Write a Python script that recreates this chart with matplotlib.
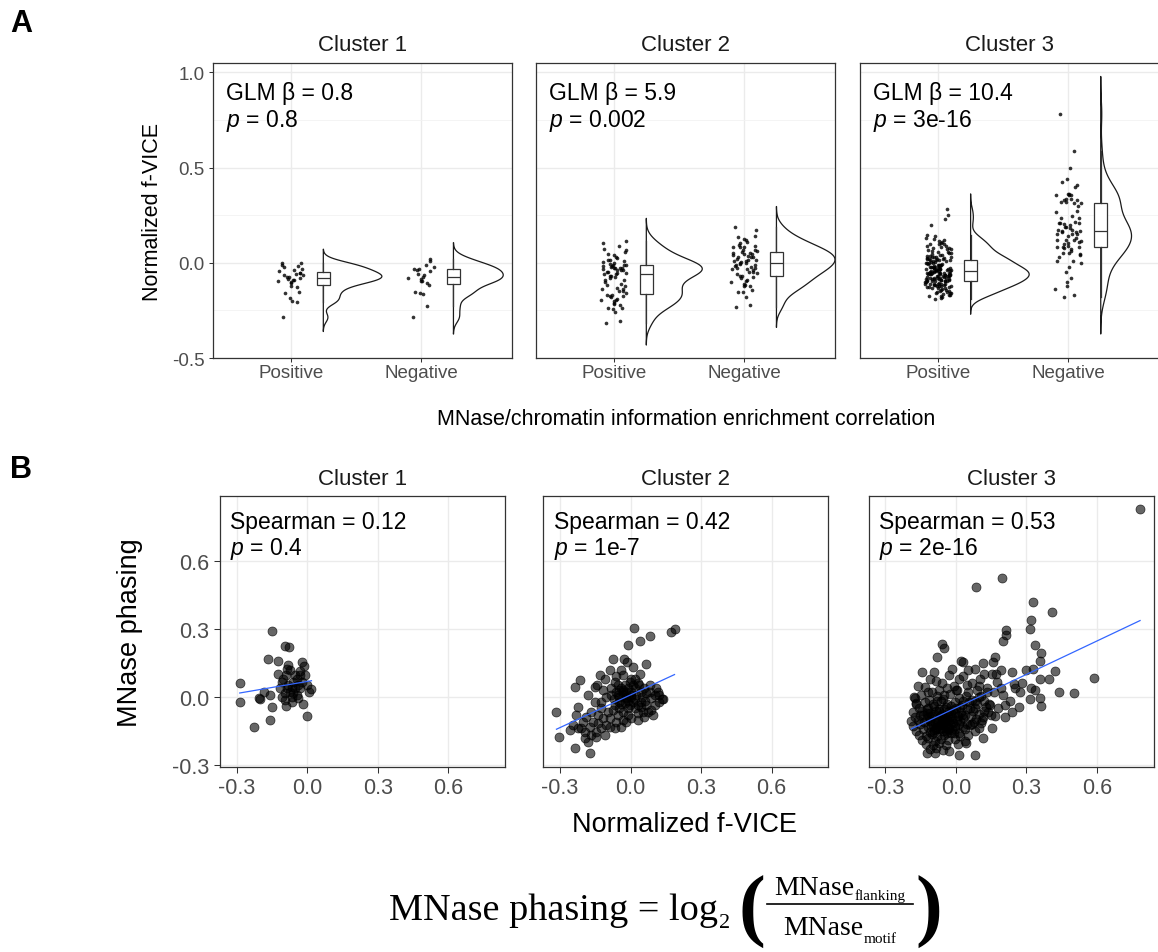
import numpy as np
import matplotlib
matplotlib.use("Agg")
import matplotlib.pyplot as plt

plt.rcParams["font.family"] = ["Liberation Sans", "DejaVu Sans"]
plt.rcParams["mathtext.fontset"] = "custom"
plt.rcParams["mathtext.rm"] = "Liberation Sans"
plt.rcParams["mathtext.it"] = "Liberation Sans:italic"
plt.rcParams["axes.unicode_minus"] = False

# ---- data -------------------------------------------------------------
clusters = ["Cluster 1", "Cluster 2", "Cluster 3"]
groups = ["Positive", "Negative"]
glm_beta = ["0.8", "5.9", "10.4"]
glm_p = ["0.8", "0.002", "3e-16"]
spearman_rho = ["0.12", "0.42", "0.53"]
spearman_p = ["0.4", "1e-7", "2e-16"]

# (normalized f-VICE, MNase phasing) per motif
c1_positive = [
    (-0.287, -0.023), (-0.207, -0.007), (-0.200, -0.010), (-0.183, 0.022), (-0.158, -0.100),
    (-0.151, -0.044), (-0.125, 0.158), (-0.123, 0.102), (-0.108, 0.066), (-0.101, 0.081),
    (-0.094, -0.015), (-0.090, -0.038), (-0.090, 0.095), (-0.087, 0.037), (-0.080, 0.139),
    (-0.076, 0.221), (-0.073, 0.117), (-0.066, -0.022), (-0.066, 0.044), (-0.059, 0.066),
    (-0.052, 0.037), (-0.052, 0.095), (-0.045, 0.081), (-0.038, 0.051), (-0.031, 0.113),
    (-0.024, 0.154), (-0.017, -0.032), (-0.013, 0.136), (-0.003, -0.082), (-0.003, 0.051),
]
c1_negative = [
    (-0.287, 0.061), (-0.228, -0.133), (-0.165, 0.165), (-0.158, 0.007), (-0.151, 0.290),
    (-0.115, 0.037), (-0.108, 0.000), (-0.094, 0.224), (-0.094, 0.015), (-0.087, 0.124),
    (-0.080, 0.051), (-0.073, 0.022), (-0.066, 0.000), (-0.059, 0.015), (-0.045, 0.007),
    (-0.038, -0.007), (-0.031, 0.037), (-0.031, 0.095), (-0.024, 0.066), (-0.010, 0.095),
    (0.007, 0.022), (0.018, 0.034),
]
c2_positive = [
    (-0.315, -0.066), (-0.306, -0.176), (-0.259, -0.146), (-0.245, -0.124), (-0.238, -0.227),
    (-0.238, 0.044), (-0.223, -0.139), (-0.216, 0.073), (-0.209, -0.139), (-0.202, -0.110),
    (-0.195, -0.183), (-0.195, -0.154), (-0.188, -0.088), (-0.181, -0.198), (-0.174, -0.249),
    (-0.174, -0.132), (-0.167, -0.168), (-0.167, -0.066), (-0.160, -0.110), (-0.146, -0.176),
    (-0.146, -0.154), (-0.139, -0.081), (-0.139, -0.117), (-0.132, 0.095), (-0.124, -0.139),
    (-0.117, -0.095), (-0.110, -0.168), (-0.103, -0.124), (-0.089, -0.095), (-0.089, -0.132),
    (-0.082, 0.037), (-0.075, 0.165), (-0.068, -0.139), (-0.068, 0.066), (-0.061, -0.110),
    (-0.060, 0.090), (-0.054, 0.051), (-0.054, -0.081), (-0.050, 0.000), (-0.047, -0.051),
    (-0.040, -0.132), (-0.040, 0.117), (-0.040, -0.030), (-0.033, -0.102), (-0.030, 0.030),
    (-0.028, 0.168), (-0.025, 0.051), (-0.018, -0.110), (-0.017, 0.154), (-0.011, 0.227),
    (-0.011, -0.081), (-0.010, -0.020), (-0.004, 0.066), (0.000, 0.010), (0.003, -0.095),
    (0.010, 0.051), (0.014, 0.303), (0.017, -0.051), (0.024, 0.007), (0.031, -0.102),
    (0.042, 0.102), (0.045, -0.044), (0.059, 0.037), (0.066, 0.146), (0.074, -0.066),
    (0.088, -0.007), (0.102, 0.007), (0.116, 0.022), (-0.030, 0.020), (-0.020, 0.000),
]
c2_negative = [
    (-0.231, -0.081), (-0.223, -0.044), (-0.181, 0.007), (-0.153, 0.044), (-0.153, -0.022),
    (-0.141, 0.051), (-0.124, -0.051), (-0.124, -0.022), (-0.117, 0.029), (-0.110, 0.081),
    (-0.103, 0.000), (-0.096, -0.066), (-0.089, 0.117), (-0.082, 0.007), (-0.075, -0.059),
    (-0.070, -0.010), (-0.068, -0.037), (-0.061, 0.022), (-0.054, 0.007), (-0.050, 0.030),
    (-0.047, -0.022), (-0.040, 0.037), (-0.033, 0.095), (-0.033, -0.066), (-0.030, 0.010),
    (-0.025, -0.029), (-0.020, 0.020), (-0.018, -0.007), (-0.011, 0.037), (-0.011, -0.051),
    (-0.004, -0.037), (0.000, 0.000), (0.000, 0.080), (0.003, 0.022), (0.010, 0.132),
    (0.010, -0.022), (0.017, 0.081), (0.017, 0.037), (0.020, -0.010), (0.030, 0.060),
    (0.031, -0.073), (0.031, -0.037), (0.038, 0.051), (0.042, 0.246), (0.045, 0.022),
    (0.045, -0.022), (0.050, 0.000), (0.052, -0.066), (0.059, -0.088), (0.060, -0.020),
    (0.066, 0.015), (0.066, -0.037), (0.081, 0.266), (0.081, 0.051), (0.081, 0.022),
    (0.088, -0.059), (0.095, -0.081), (0.102, -0.037), (0.109, 0.037), (0.120, 0.010),
    (0.123, -0.022), (0.134, -0.010), (0.140, -0.010), (0.170, 0.288), (0.187, 0.300),
]
c3_positive = [
    (-0.059, 0.234), (-0.052, 0.215), (-0.080, 0.176), (0.021, 0.157), (0.032, 0.154),
    (-0.144, 0.110), (-0.094, 0.110), (-0.130, 0.044), (-0.085, 0.069), (-0.017, 0.124),
    (-0.031, 0.095), (-0.060, 0.060), (-0.010, 0.050), (0.030, 0.090), (0.070, 0.060),
    (-0.110, 0.080), (-0.040, 0.040), (0.005, 0.030), (-0.160, 0.050), (0.100, 0.050),
    (0.250, 0.040), (0.280, 0.060), (0.130, 0.020), (-0.120, 0.020), (-0.070, 0.030),
    (0.200, 0.010), (0.230, -0.020),
    (-0.176, -0.004), (-0.148, 0.008), (-0.113, -0.012), (-0.082, 0.004), (-0.053, -0.008),
    (-0.024, 0.012), (0.012, -0.005), (0.041, 0.006), (0.068, -0.014), (0.107, 0.003),
    (-0.168, -0.028), (-0.131, -0.021), (-0.097, -0.033), (-0.064, -0.018), (-0.036, -0.030),
    (-0.004, -0.024), (0.027, -0.035), (0.057, -0.022), (0.088, -0.031), (0.118, -0.019),
    (0.146, -0.036), (-0.158, -0.047), (-0.121, -0.055), (-0.092, -0.041), (-0.071, -0.052),
    (-0.044, -0.046), (-0.013, -0.057), (0.018, -0.043), (0.049, -0.052), (0.079, -0.048),
    (0.127, -0.044), (-0.183, -0.068), (-0.143, -0.061), (-0.109, -0.072), (-0.084, -0.064),
    (-0.058, -0.076), (-0.029, -0.063), (-0.002, -0.071), (0.022, -0.066), (0.038, -0.078),
    (0.071, -0.062), (0.098, -0.074), (0.138, -0.067), (-0.172, -0.088), (-0.151, -0.081),
    (-0.124, -0.094), (-0.101, -0.083), (-0.073, -0.091), (-0.048, -0.085), (-0.021, -0.097),
    (0.008, -0.086), (0.031, -0.092), (0.062, -0.084), (0.087, -0.096), (0.116, -0.089),
    (-0.189, -0.108), (-0.163, -0.101), (-0.134, -0.112), (-0.112, -0.104), (-0.088, -0.115),
    (-0.061, -0.107), (-0.039, -0.101), (-0.012, -0.113), (0.016, -0.106), (0.047, -0.118),
    (0.076, -0.109), (0.105, -0.117), (-0.181, -0.127), (-0.152, -0.121), (-0.119, -0.133),
    (-0.097, -0.124), (-0.079, -0.131), (-0.053, -0.122), (-0.031, -0.136), (-0.003, -0.127),
    (0.028, -0.132), (0.059, -0.124), (0.096, -0.135), (-0.168, -0.148), (-0.139, -0.142),
    (-0.111, -0.153), (-0.092, -0.146), (-0.068, -0.141), (-0.042, -0.152), (-0.017, -0.147),
    (0.012, -0.158), (0.039, -0.143), (0.083, -0.151), (-0.157, -0.166), (-0.128, -0.172),
    (-0.102, -0.163), (-0.081, -0.174), (-0.052, -0.168), (-0.023, -0.161), (0.019, -0.173),
    (0.051, -0.166), (-0.146, -0.188), (-0.118, -0.183), (-0.091, -0.194), (-0.063, -0.186),
    (-0.034, -0.191), (-0.002, -0.184), (0.038, -0.193), (-0.127, -0.207), (-0.098, -0.214),
    (-0.071, -0.203), (-0.043, -0.211), (0.009, -0.206), (-0.112, -0.228), (-0.083, -0.223),
    (-0.054, -0.232), (-0.123, -0.246), (-0.087, -0.249), (-0.030, -0.240),
    (-0.095, -0.075), (-0.075, -0.100), (-0.065, -0.120), (-0.055, -0.095), (-0.045, -0.110),
    (-0.035, -0.080), (-0.025, -0.120), (-0.015, -0.090), (-0.005, -0.140), (0.005, -0.100),
    (-0.085, -0.140), (-0.070, -0.060), (-0.060, -0.135), (-0.050, -0.055), (-0.040, -0.160),
    (-0.030, -0.105), (-0.020, -0.070), (-0.010, -0.160), (0.000, -0.050), (-0.105, -0.130),
    (-0.115, -0.090), (-0.125, -0.070), (-0.095, -0.155), (-0.080, -0.110), (-0.045, -0.125),
    (-0.035, -0.140), (-0.065, -0.085), (-0.055, -0.150), (0.015, -0.120), (0.025, -0.080),
]
c3_negative = [
    (0.783, 0.827), (0.589, 0.085), (0.500, 0.019), (0.438, 0.022), (0.423, 0.113),
    (0.410, 0.373), (0.397, 0.078), (0.363, 0.195), (0.360, -0.040), (0.356, 0.157),
    (0.356, 0.081), (0.356, -0.007), (0.335, 0.227), (0.335, 0.029), (0.328, 0.417),
    (0.328, 0.124), (0.321, 0.037), (0.318, 0.337), (0.314, 0.300), (0.314, -0.010),
    (0.300, 0.120), (0.272, 0.022), (0.268, -0.044), (0.246, 0.059), (0.237, 0.110),
    (0.237, -0.066), (0.215, 0.274), (0.211, 0.293), (0.208, -0.037), (0.208, -0.088),
    (0.201, 0.245), (0.197, 0.523),
    (0.190, 0.120), (0.190, 0.040), (0.180, -0.050), (0.173, 0.066), (0.170, 0.100),
    (0.166, 0.176), (0.166, -0.085), (0.160, 0.020), (0.159, 0.154), (0.152, 0.102),
    (0.152, -0.136), (0.150, -0.080), (0.140, -0.030), (0.130, 0.040), (0.120, 0.100),
    (0.120, -0.060), (0.117, -0.180), (0.114, 0.151), (0.110, -0.100), (0.103, 0.081),
    (0.100, 0.000), (0.090, 0.030), (0.085, 0.486), (0.082, 0.124), (0.082, -0.256),
    (0.080, -0.020), (0.070, -0.120), (0.060, -0.050), (0.050, 0.120), (0.050, 0.020),
    (0.046, 0.051), (0.042, -0.205), (0.030, -0.020), (0.011, -0.256), (0.011, 0.081),
    (0.000, 0.030), (-0.020, -0.040), (-0.050, 0.010), (-0.080, -0.020), (-0.100, 0.020),
    (-0.120, -0.050), (-0.140, -0.080), (-0.170, -0.030), (-0.179, 0.000),
]
cluster_data = [(c1_positive, c1_negative), (c2_positive, c2_negative), (c3_positive, c3_negative)]

# ---- style ------------------------------------------------------------
W, H = 1158, 953
DARK = "#333333"
TICK = "#4D4D4D"
GRID = "#EBEBEB"
BLUE = "#3366FF"
SERIF = "Liberation Serif"

fig = plt.figure(figsize=(W / 100, H / 100), dpi=100)


def px_axes(x0, y0, w, h):
    return fig.add_axes([x0 / W, 1 - (y0 + h) / H, w / W, h / H])


def kde(vals):
    # gaussian density, bw.nrd0, cut = 3 like ggplot's violin
    v = np.asarray(vals, dtype=float)
    n = len(v)
    iqr = np.subtract(*np.percentile(v, [75, 25]))
    bw = 0.9 * min(v.std(ddof=1), iqr / 1.34) * n ** -0.2
    grid = np.linspace(v.min() - 3 * bw, v.max() + 3 * bw, 400)
    dens = np.exp(-0.5 * ((grid[:, None] - v[None, :]) / bw) ** 2).sum(1) / (n * bw * np.sqrt(2 * np.pi))
    return grid, dens


def jitter(n, width=0.1):
    # deterministic hash-style spread of horizontal offsets
    i = np.arange(n)
    h = np.sin(i * 12.9898 + 78.233) * 43758.5453
    return (h - np.floor(h) - 0.5) * 2 * width


def frame(ax):
    for s in ax.spines.values():
        s.set_color(DARK)
        s.set_linewidth(0.9)
    ax.set_axisbelow(True)


# ---- panel A ----------------------------------------------------------
A_X = [212.7, 535.7, 860.0]
A_Y, A_W, A_H = 64.3, 299.3, 294.7
for ci in range(3):
    ax = px_axes(A_X[ci], A_Y, A_W, A_H)
    frame(ax)
    vals = [[p[0] for p in grp] for grp in cluster_data[ci]]
    kdes = [kde(v) for v in vals]
    dmax = max(k[1].max() for k in kdes)
    for gi, v in enumerate(vals):
        xpos = gi + 1
        ax.scatter(xpos + jitter(len(v)), v, s=7, color="black", alpha=0.8, lw=0, zorder=3)
        grid, dens = kdes[gi]
        ax.fill_betweenx(grid, xpos + 0.25, xpos + 0.25 + 0.45 * dens / dmax,
                         facecolor="none", edgecolor="#1a1a1a", lw=0.9, zorder=4)
        ax.boxplot([v], positions=[xpos + 0.25], widths=0.1, showfliers=False,
                   patch_artist=True, manage_ticks=False, zorder=5,
                   boxprops=dict(facecolor="white", edgecolor=DARK, lw=0.9),
                   medianprops=dict(color=DARK, lw=0.9),
                   whiskerprops=dict(color=DARK, lw=0.9), capprops=dict(lw=0))
    ax.set_xlim(0.40, 2.70)
    ax.set_ylim(-0.5, 1.047)
    ax.set_xticks([1, 2], groups)
    ax.set_yticks([-0.5, 0.0, 0.5, 1.0], ["-0.5", "0.0", "0.5", "1.0"])
    ax.set_yticks([-0.25, 0.25, 0.75], minor=True)
    ax.grid(which="major", color=GRID, lw=1.0)
    ax.grid(which="minor", axis="y", color="#F2F2F2", lw=0.6)
    ax.tick_params(which="minor", length=0)
    ax.tick_params(axis="x", length=2.9, width=0.75, color=DARK, labelsize=13.5, labelcolor=TICK, pad=1.5)
    if ci == 0:
        ax.tick_params(axis="y", length=2.9, width=0.75, color=DARK, labelsize=13.5, labelcolor=TICK, pad=3)
    else:
        ax.tick_params(axis="y", length=0, labelleft=False)
    ax.text(0.5, 1 + 13.3 / A_H, clusters[ci], transform=ax.transAxes, ha="center",
            va="baseline", fontsize=16, color="#1A1A1A")
    ax.text(13 / A_W, 1 - 35.7 / A_H, "GLM \u03b2 = " + glm_beta[ci], transform=ax.transAxes,
            ha="left", va="baseline", fontsize=16.5)
    ax.text(13 / A_W, 1 - 62.4 / A_H, r"$\mathit{p}$ = " + glm_p[ci], transform=ax.transAxes,
            ha="left", va="baseline", fontsize=16.5)

fig.text(153 / W, 1 - 211.7 / H, "Normalized f-VICE", rotation=90, ha="center", va="center", fontsize=15.5)
fig.text(686 / W, 1 - 425 / H, "MNase/chromatin information enrichment correlation",
         ha="center", va="baseline", fontsize=15.5)

# ---- panel B ----------------------------------------------------------
B_X = [220.0, 543.3, 868.7]
B_Y, B_W, B_H = 496.7, 285.0, 271.6
for ci in range(3):
    ax = px_axes(B_X[ci], B_Y, B_W, B_H)
    frame(ax)
    pts = cluster_data[ci][0] + cluster_data[ci][1]
    x = np.array([p[0] for p in pts])
    y = np.array([p[1] for p in pts])
    ax.scatter(x, y, s=42, facecolor=(0, 0, 0, 0.6), edgecolor=(0, 0, 0, 0.75), lw=0.5, zorder=3)
    slope, icpt = np.polyfit(x, y, 1)
    xs = np.array([x.min(), x.max()])
    ax.plot(xs, slope * xs + icpt, color=BLUE, lw=0.9, zorder=4)
    ax.set_xlim(-0.371, 0.841)
    ax.set_ylim(-0.31, 0.886)
    ax.set_xticks([-0.3, 0.0, 0.3, 0.6], ["-0.3", "0.0", "0.3", "0.6"])
    ax.set_yticks([-0.3, 0.0, 0.3, 0.6], ["-0.3", "0.0", "0.3", "0.6"])
    ax.grid(which="major", color=GRID, lw=1.0)
    ax.tick_params(axis="x", length=4, width=0.75, color=DARK, labelsize=15.5, labelcolor=TICK, pad=3)
    if ci == 0:
        ax.tick_params(axis="y", length=4, width=0.75, color=DARK, labelsize=15.5, labelcolor=TICK, pad=4)
    else:
        ax.tick_params(axis="y", length=0, labelleft=False)
    ax.text(0.5, 1 + 11.7 / B_H, clusters[ci], transform=ax.transAxes, ha="center",
            va="baseline", fontsize=16, color="#1A1A1A")
    ax.text(10.5 / B_W, 1 - 32.6 / B_H, "Spearman = " + spearman_rho[ci], transform=ax.transAxes,
            ha="left", va="baseline", fontsize=16.5)
    ax.text(10.5 / B_W, 1 - 58.3 / B_H, r"$\mathit{p}$ = " + spearman_p[ci], transform=ax.transAxes,
            ha="left", va="baseline", fontsize=16.5)

fig.text(130 / W, 1 - 632.5 / H, "MNase phasing", rotation=90, ha="center", va="center", fontsize=19.5)
fig.text(685 / W, 1 - 832 / H, "Normalized f-VICE", ha="center", va="baseline", fontsize=19.5)

# panel letters
fig.text(10 / W, 1 - 31.7 / H, "A", fontsize=22, fontweight="bold", va="baseline")
fig.text(10 / W, 1 - 478 / H, "B", fontsize=22, fontweight="bold", va="baseline")

# ---- formula (pieces placed one after another) -------------------------
rend = fig.canvas.get_renderer()


def ftext(x, y, s, **kw):
    return fig.text(x / W, 1 - y / H, s, family=SERIF, **kw)


def ext(t):
    return t.get_window_extent(rend)


main = ftext(389, 920, "MNase phasing = log", fontsize=27.5, va="baseline")
sub2 = ftext(ext(main).x1 + 1, 928, "2", fontsize=16, va="baseline")
lpar = ftext(ext(sub2).x1 + 8, 912, "(", fontsize=58, va="center", fontweight="bold")
x0 = ext(lpar).x1 + 2

num = ftext(0, 895, "MNase", fontsize=20, va="baseline")
num_sub = ftext(0, 900, "flanking", fontsize=11, va="baseline")
den = ftext(0, 935, "MNase", fontsize=20, va="baseline")
den_sub = ftext(0, 943, "motif", fontsize=11, va="baseline")
wn = ext(num).width + ext(num_sub).width + 1
wd = ext(den).width + ext(den_sub).width + 1
frac_len = max(wn, wd) + 14

xn = x0 + (frac_len - wn) / 2
num.set_x(xn / W)
num_sub.set_x((xn + ext(num).width + 1) / W)
xd = x0 + (frac_len - wd) / 2
den.set_x(xd / W)
den_sub.set_x((xd + ext(den).width + 1) / W)
fig.add_artist(plt.Line2D([x0 / W, (x0 + frac_len) / W], [1 - 905 / H, 1 - 905 / H],
                          color="black", lw=1.2, transform=fig.transFigure))
ftext(x0 + frac_len + 2, 912, ")", fontsize=58, va="center", fontweight="bold")

fig.savefig("out.png", dpi=100)
